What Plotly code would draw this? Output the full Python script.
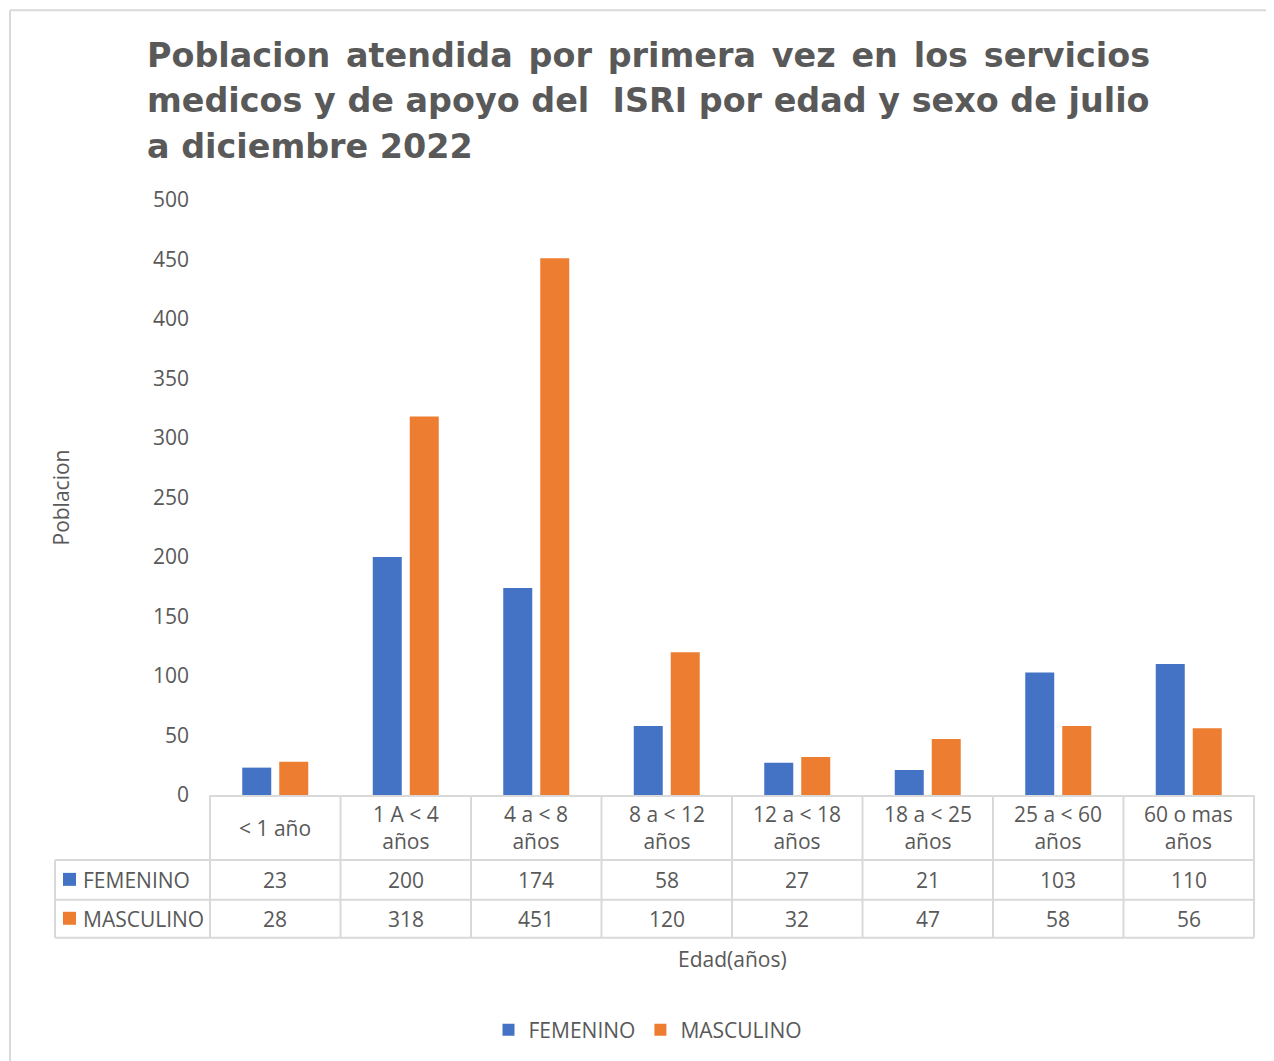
import plotly.graph_objects as go

categories = ["< 1 año", "1 A < 4 años", "4 a < 8 años", "8 a < 12 años",
              "12 a < 18 años", "18 a < 25 años", "25 a < 60 años", "60 o mas años"]
cat_labels = ["< 1 año", "1 A < 4<br>años", "4 a < 8<br>años", "8 a < 12<br>años",
              "12 a < 18<br>años", "18 a < 25<br>años", "25 a < 60<br>años", "60 o mas<br>años"]
femenino = [23, 200, 174, 58, 27, 21, 103, 110]
masculino = [28, 318, 451, 120, 32, 47, 58, 56]
series_names = ["FEMENINO", "MASCULINO"]
colors = ["#4472C4", "#ED7D31"]

# page body has an 8px margin; figure is sized to fit the window
OFF = 8
W, H = 1274 - OFF, 1061 - OFF
# plot area in reference-picture coordinates
PX0, PX1, PY0, PY1 = 210, 1254, 200, 796
PW, PH = PX1 - PX0, PY1 - PY0


def px(x):
    return (x - PX0) / PW


def py(y):
    return (PY1 - y) / PH


GRAY = "#595959"
LINE = "#d9d9d9"
FONT = "Open Sans"
FS = 21

fig = go.Figure()
for name, vals, col in zip(series_names, [femenino, masculino], colors):
    fig.add_trace(go.Bar(x=categories, y=vals, name=name, marker_color=col,
                         marker_line_width=0))

ann = []
GAP = '\u00a0<span style="font-size:12px">\u00a0</span>'
title_lines = [
    GAP.join(["Poblacion", "atendida", "por", "primera", "vez", "en", "los", "servicios"]),
    "medicos y de apoyo del\u00a0 ISRI por edad y sexo de julio",
    "a diciembre 2022",
]
for line, yc in zip(title_lines, [55, 100, 146]):
    ann.append(dict(text="<b>" + line + "</b>", xref="paper", yref="paper",
                    x=px(145), y=py(yc), xanchor="left", yanchor="middle",
                    showarrow=False, font=dict(family="DejaVu Sans", size=33.4, color=GRAY)))

# y-axis title
ann.append(dict(text="Poblacion", xref="paper", yref="paper", x=px(60), y=py(498),
                textangle=-90, showarrow=False, xanchor="center", yanchor="middle",
                font=dict(family=FONT, size=FS, color=GRAY)))

# category header row
for c, lab in zip(categories, cat_labels):
    ann.append(dict(text=lab, xref="x", yref="paper", x=c, y=py(829),
                    showarrow=False, xanchor="center", yanchor="middle",
                    font=dict(family=FONT, size=FS, color=GRAY)))
# value rows
for vals, yc in zip([femenino, masculino], [881, 920]):
    for c, v in zip(categories, vals):
        ann.append(dict(text=str(v), xref="x", yref="paper", x=c, y=py(yc),
                        showarrow=False, xanchor="center", yanchor="middle",
                        font=dict(family=FONT, size=FS, color=GRAY)))
for name, yc in zip(series_names, [881, 920]):
    ann.append(dict(text=name, xref="paper", yref="paper", x=px(81), y=py(yc),
                    showarrow=False, xanchor="left", yanchor="middle",
                    font=dict(family=FONT, size=FS, color=GRAY)))

# x-axis title
ann.append(dict(text="Edad(años)", xref="paper", yref="paper", x=0.5, y=py(960),
                showarrow=False, xanchor="center", yanchor="middle",
                font=dict(family=FONT, size=FS, color=GRAY)))

shapes = []
lw = 2
for yl in [861, 901, 939]:
    shapes.append(dict(type="line", xref="paper", yref="paper", x0=px(55), x1=px(1254),
                       y0=py(yl), y1=py(yl), line=dict(color=LINE, width=lw)))
shapes.append(dict(type="line", xref="paper", yref="paper", x0=px(55), x1=px(55),
                   y0=py(861), y1=py(939), line=dict(color=LINE, width=lw)))
n = len(categories)
for k in range(n + 1):
    xp = k / n
    shapes.append(dict(type="line", xref="paper", yref="paper", x0=xp, x1=xp,
                       y0=py(796), y1=py(939), line=dict(color=LINE, width=lw)))
for col, yc in zip(colors, [881, 920]):
    shapes.append(dict(type="rect", xref="paper", yref="paper", x0=px(63), x1=px(76),
                       y0=py(yc - 7), y1=py(yc + 6), fillcolor=col, line=dict(width=0)))
# outer chart border
shapes.append(dict(type="line", xref="paper", yref="paper", x0=px(10), x1=px(10),
                   y0=py(10), y1=py(1080), line=dict(color=LINE, width=lw)))
shapes.append(dict(type="line", xref="paper", yref="paper", x0=px(10), x1=px(1290),
                   y0=py(10), y1=py(10), line=dict(color=LINE, width=lw)))

fig.update_layout(
    width=W, height=H,
    margin=dict(l=PX0 - OFF, r=1274 - PX1, t=PY0 - OFF, b=1061 - PY1),
    paper_bgcolor="white", plot_bgcolor="white",
    barmode="group", bargap=0.433, bargroupgap=0.216,
    font=dict(family=FONT, size=FS, color=GRAY),
    xaxis=dict(showticklabels=False, ticks="", showgrid=False, showline=True,
               linecolor=LINE, linewidth=lw, zeroline=False),
    yaxis=dict(range=[0, 500], dtick=50, showgrid=False, showline=False, zeroline=False,
               ticks="", ticklabelstandoff=20,
               tickfont=dict(family=FONT, size=FS, color=GRAY)),
    legend=dict(orientation="h", xref="paper", yref="paper", x=px(648), y=py(1030),
                xanchor="center", yanchor="middle",
                font=dict(family=FONT, size=FS, color=GRAY), itemwidth=30),
    annotations=ann, shapes=shapes,
)

fig.write_html("out.html")
